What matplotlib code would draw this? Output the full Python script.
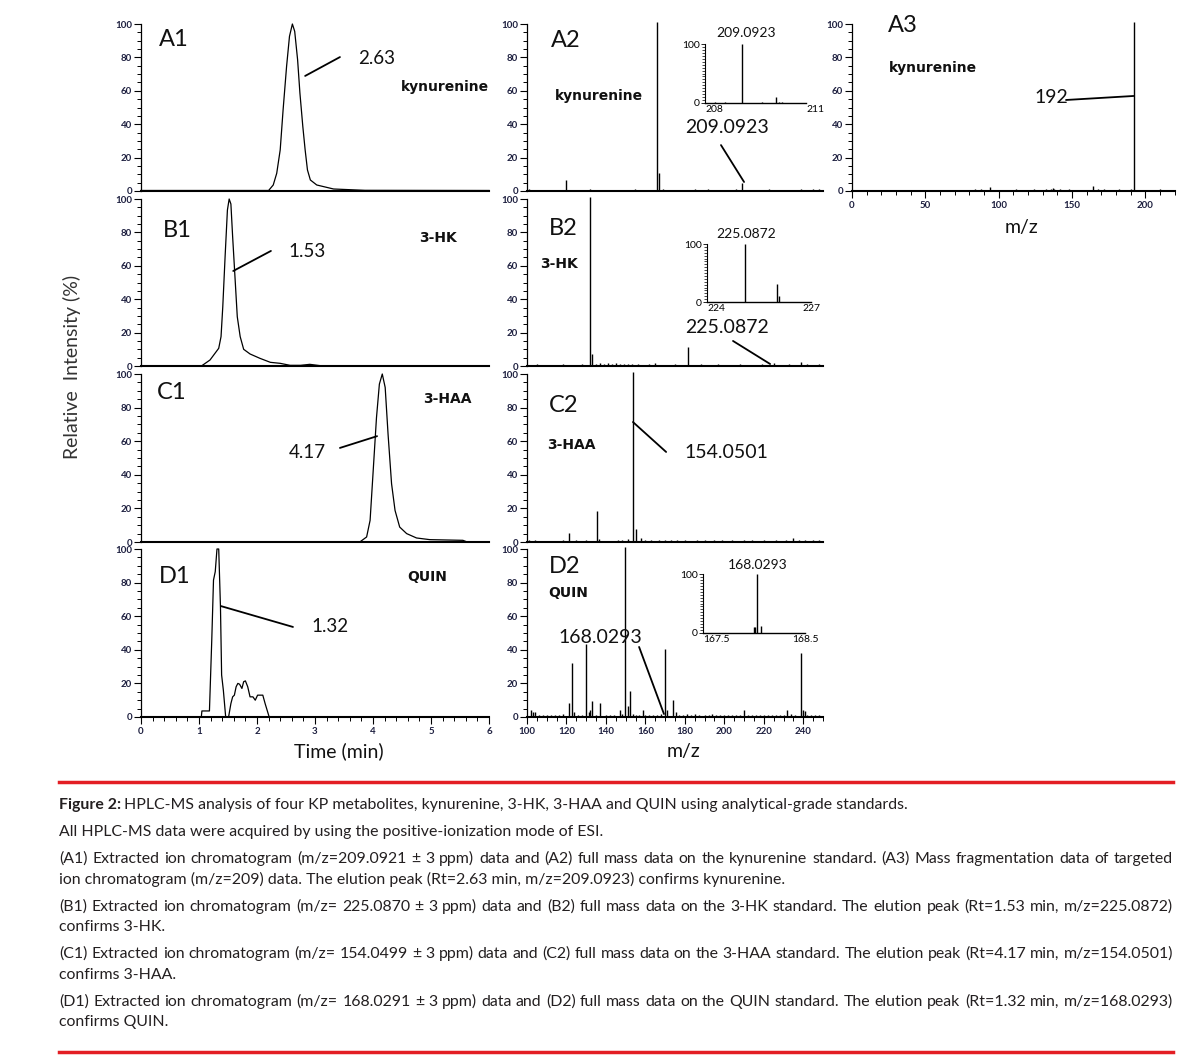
import matplotlib
matplotlib.use('Agg')
import matplotlib.pyplot as plt
from matplotlib.ticker import MultipleLocator, FixedLocator

plt.rcParams['font.family'] = ['Lato', 'DejaVu Sans']

W, H = 1192, 1062

# ---------- chromatograms: time (min) / relative intensity (%) ----------
a1_time = [0.0, 2.20, 2.28, 2.34, 2.40, 2.45, 2.51, 2.56, 2.61, 2.65, 2.70, 2.74,
           2.79, 2.83, 2.87, 2.92, 3.03, 3.32, 3.86, 6.0]
a1_int = [0.3, 0.3, 3.6, 10.6, 24.6, 48.6, 74.6, 92.6, 100, 95.6, 78.6, 58.6,
          38.6, 24.6, 12.6, 6.6, 3.6, 1.2, 0.4, 0.3]

b1_time = [0.0, 1.05, 1.19, 1.34, 1.38, 1.41, 1.45, 1.49, 1.52, 1.55, 1.58, 1.62,
           1.66, 1.71, 1.77, 1.88, 2.05, 2.23, 2.40, 2.57, 2.75, 2.91, 3.09, 6.0]
b1_int = [0.2, 0.2, 3.6, 10.6, 17.6, 35.5, 65.5, 93.4, 100, 97, 77.4, 53.5,
          29.5, 17.6, 10, 7.2, 4.6, 2.2, 1.6, 0.4, 0.4, 1.0, 0.2, 0.2]

c1_time = [0.0, 3.78, 3.89, 3.95, 4.00, 4.06, 4.11, 4.16, 4.21, 4.26, 4.32, 4.38,
           4.46, 4.58, 4.75, 4.98, 5.55, 5.61, 6.0]
c1_int = [0.2, 0.2, 3, 12.9, 40.6, 74, 94, 100, 92, 64, 34.7, 18.8,
          8.9, 5, 2.4, 1.4, 1, 0.2, 0.2]

d1_time = [0.0, 1.04, 1.05, 1.18, 1.22, 1.25, 1.28, 1.31, 1.34, 1.37, 1.39, 1.42,
           1.46, 1.51, 1.55, 1.58, 1.61, 1.64, 1.67, 1.70, 1.74, 1.77, 1.80, 1.84,
           1.88, 1.93, 1.97, 2.01, 2.07, 2.10, 2.14, 2.21, 6.0]
d1_int = [0, 0, 3.6, 3.6, 45.7, 81.5, 86.5, 100, 100, 65.6, 25, 15.9,
          0, 0, 8, 12, 13, 18, 20, 19.5, 17, 21, 21.5, 18,
          12, 12, 10, 13, 13, 13, 8, 0, 0]

# ---------- full mass spectra: m/z / relative intensity (%) ----------
a2_mz = [101, 113, 119.9, 132, 142, 154.6, 165.9, 166.9, 169, 175.7, 185, 191.7,
         199.3, 206, 209.0, 213.7, 222.6, 229.7, 239, 245, 248]
a2_int = [1.0, 0.8, 6.6, 1.0, 0.8, 1.2, 101, 11, 1.0, 0.8, 1.0, 1.2,
          0.8, 1.0, 4.6, 0.8, 1.0, 0.8, 1.2, 1.0, 1.4]

b2_mz = [102, 105, 110, 118, 125, 128, 132.1, 132.9, 135, 137, 139, 141, 143, 145,
         147, 149, 151, 153, 156, 159, 162, 165, 170, 175, 181.8, 185, 188, 192,
         197, 203, 208, 214, 219, 225, 229, 233, 236, 239, 242, 245, 248]
b2_int = [0.8, 1.0, 0.8, 1.0, 0.8, 1.0, 101, 6.9, 1.2, 1.5, 1.2, 1.5, 1.0, 1.5,
          1.2, 1.0, 1.4, 1.0, 1.2, 0.8, 1.0, 1.6, 0.8, 1.0, 11.3, 0.8, 1.0, 0.8,
          1.0, 0.8, 1.0, 0.8, 1.0, 1.5, 0.8, 1.0, 0.8, 2.2, 1.0, 0.8, 1.0]

c2_mz = [101, 104, 118, 121.1, 125, 130, 133, 135.5, 136.5, 146, 148, 151, 153.7,
         155.1, 157.9, 160, 163, 167, 170, 173, 176, 180, 186, 190, 195, 199, 204,
         210, 214, 220, 226, 231, 234.8, 238, 241, 245, 248]
c2_int = [1.0, 1.2, 1.0, 5.5, 1.0, 1.2, 0.8, 18.4, 1.5, 1.0, 1.2, 1.5, 101,
          7.9, 2.5, 1.2, 1.0, 1.2, 1.0, 1.4, 1.0, 1.2, 1.0, 1.4, 1.0, 1.2, 1.0,
          1.2, 1.0, 1.2, 1.0, 1.2, 2.5, 1.0, 1.2, 1.0, 1.2]

d2_mz = [102.2, 103, 104, 106, 108, 110, 112, 114, 116, 118, 121.3, 122.8, 124, 126,
         128, 130.1, 131.4, 132.1, 133, 135, 137.2, 140, 142, 144, 147.1, 148.3,
         149.7, 151.2, 152.4, 153.5, 155, 157, 158.8, 160, 162, 164, 166, 168,
         170.1, 171.1, 174, 175.3, 177, 179, 181, 183, 185, 187, 190, 192, 194,
         196, 198, 200, 202, 204, 206, 208, 210, 212, 214, 216, 218, 220, 222,
         224, 226, 228, 230, 232, 234, 236, 239, 240, 240.9, 242, 244, 246, 248]
d2_int = [4, 3, 3, 1, 1, 1, 1, 1, 1, 1.5, 8.3, 32.2, 3, 1,
          1, 43.3, 3, 4, 9.5, 1, 8.3, 1, 1, 1, 4, 2,
          101, 6.6, 15.5, 1.5, 1, 1, 4, 1, 1, 1, 1, 1.5,
          40.6, 4, 10, 3, 1, 1, 1.5, 1, 1.5, 1, 1, 1, 1.5,
          1, 1, 1, 1, 1, 1, 1, 4, 1, 1, 1, 1, 1, 1,
          1, 1, 1, 1, 4, 1.5, 1, 38.2, 4, 3.5, 1, 1, 1, 1]

# ---------- MS/MS of kynurenine ----------
a3_mz = [75, 80, 84, 86, 88, 90, 94, 98, 104, 108, 112, 118, 122, 124, 126, 128,
         132, 134, 136, 137, 138, 140, 142, 145, 148, 152, 156, 160, 164, 168,
         170, 172, 175, 178, 182, 186, 190, 192, 194, 198, 206, 210]
a3_int = [0.6, 0.8, 1.0, 0.8, 1.2, 0.8, 2.5, 0.8, 0.6, 0.8, 1.0, 0.6, 0.8, 1.0, 0.8, 0.6,
          1.0, 0.8, 1.2, 1.5, 1.0, 0.8, 1.0, 0.6, 1.0, 0.8, 0.6, 0.8, 3.0, 1.0,
          0.8, 1.0, 0.8, 0.6, 1.0, 0.8, 1.0, 101, 0.8, 0.6, 0.8, 1.0]

# ---------- zoomed insets ----------
a2_zoom_mz = [208.3, 208.6, 209.09, 209.7, 210.1, 210.2, 210.3]
a2_zoom_int = [1.5, 1.0, 100, 1.0, 11, 2, 2]
b2_zoom_mz = [225.09, 226.03, 226.08]
b2_zoom_int = [100, 31, 11]
d2_zoom_mz = [168.0, 168.01, 168.03, 168.07]
d2_zoom_int = [10, 10, 100, 12]

TICK_COL = '#1e2040'

fig = plt.figure(figsize=(W / 100, H / 100), dpi=100)
fig.patch.set_facecolor('white')


def px_axes(x0, y0, x1, y1):
    a = fig.add_axes([x0 / W, 1 - y1 / H, (x1 - x0) / W, (y1 - y0) / H])
    a.patch.set_visible(False)
    return a


def style_main(ax, xlim, major, minor, show_x):
    ax.set_xlim(*xlim)
    ax.set_ylim(0, 100)
    for s in ['top', 'right']:
        ax.spines[s].set_visible(False)
    ax.spines['left'].set_linewidth(0.9)
    ax.spines['bottom'].set_linewidth(1.5)
    ax.yaxis.set_major_locator(MultipleLocator(20))
    ax.yaxis.set_minor_locator(MultipleLocator(5))
    ax.tick_params(axis='y', which='major', length=5, width=0.8, labelsize=7,
                   pad=1.5, labelcolor=TICK_COL)
    ax.tick_params(axis='y', which='minor', length=3, width=0.7)
    if show_x:
        ax.xaxis.set_major_locator(MultipleLocator(major))
        ax.xaxis.set_minor_locator(MultipleLocator(minor))
        ax.tick_params(axis='x', which='major', length=5, width=0.8, labelsize=7,
                       pad=2, labelcolor=TICK_COL)
        ax.tick_params(axis='x', which='minor', length=3, width=0.7)
    else:
        ax.tick_params(axis='x', which='both', bottom=False, labelbottom=False)
    for lab in ax.get_xticklabels() + ax.get_yticklabels():
        lab.set_fontweight('bold')


def style_inset(ax, xlim, xt, aligns):
    ax.set_xlim(*xlim)
    ax.set_ylim(0, 100)
    for s in ['top', 'right']:
        ax.spines[s].set_visible(False)
    ax.spines['left'].set_linewidth(0.8)
    ax.spines['bottom'].set_linewidth(1.0)
    ax.yaxis.set_major_locator(FixedLocator([0, 100]))
    ax.yaxis.set_minor_locator(MultipleLocator(5))
    ax.xaxis.set_major_locator(FixedLocator(xt))
    ax.set_xticklabels([f'{v:g}' for v in xt])
    ax.tick_params(axis='y', which='major', length=3, width=0.6, labelsize=7.5, pad=1)
    ax.tick_params(axis='y', which='minor', length=2, width=0.5)
    ax.tick_params(axis='x', which='major', length=0, labelsize=7.5, pad=1.5)
    for lab, a in zip(ax.get_xticklabels(), aligns):
        lab.set_ha(a)


def leader(ax, p0, p1):
    ax.annotate('', xy=p1, xytext=p0,
                arrowprops=dict(arrowstyle='-', lw=1.3, color='black',
                                shrinkA=0, shrinkB=0))


def bold(ax, x, y, s, ha='center'):
    ax.text(x, y, s, ha=ha, va='center', fontsize=10, fontweight='bold',
            family='DejaVu Sans', color='#111111')


def plab(ax, x, y, s):
    ax.text(x, y, s, ha='left', va='center', fontsize=17, color='#111111')


def num(ax, x, y, s, fs=13.5):
    ax.text(x, y, s, ha='center', va='center', fontsize=fs, color='#111111')


cols = [(141, 489), (527, 823)]
rows = [(24, 191), (199, 366), (374, 542), (549, 717)]

# ---- chromatogram column ----
chrom = [(a1_time, a1_int), (b1_time, b1_int), (c1_time, c1_int), (d1_time, d1_int)]
c1_axes = []
for i, (t, y) in enumerate(chrom):
    ax = px_axes(cols[0][0], rows[i][0], cols[0][1], rows[i][1])
    ax.plot(t, y, color='black', lw=0.9, clip_on=False)
    style_main(ax, (0, 6), 1, 0.2, i == 3)
    c1_axes.append(ax)
axA1, axB1, axC1, axD1 = c1_axes

# ---- full mass column ----
spec = [(a2_mz, a2_int), (b2_mz, b2_int), (c2_mz, c2_int), (d2_mz, d2_int)]
c2_axes = []
for i, (m, y) in enumerate(spec):
    ax = px_axes(cols[1][0], rows[i][0], cols[1][1], rows[i][1])
    ax.vlines(m, 0, y, color='black', lw=1.0, clip_on=False)
    style_main(ax, (100, 250), 20, 5, i == 3)
    c2_axes.append(ax)
axA2, axB2, axC2, axD2 = c2_axes

# ---- MS/MS ----
axA3 = px_axes(852, 24, 1174.7, 191)
axA3.vlines(a3_mz, 0, a3_int, color='black', lw=1.0, clip_on=False)
style_main(axA3, (0, 220), 50, 10, True)

# panel labels
plab(axA1, 0.31, 91, 'A1')
plab(axB1, 0.38, 81.4, 'B1')
plab(axC1, 0.28, 88.7, 'C1')
plab(axD1, 0.31, 83.9, 'D1')
plab(axA2, 112.2, 90.4, 'A2')
plab(axB2, 111.2, 82.6, 'B2')
plab(axC2, 111.2, 81.5, 'C2')
plab(axD2, 111.2, 89.3, 'D2')
plab(axA3, 24.5, 99.4, 'A3')

# compound names
bold(axA1, 5.24, 62.3, 'kynurenine')
bold(axA2, 136.5, 56.9, 'kynurenine')
bold(axA3, 25.2, 73.7, 'kynurenine', ha='left')
bold(axB1, 5.12, 76.6, '3-HK')
bold(axB2, 106.6, 61.1, '3-HK', ha='left')
bold(axC1, 5.28, 85.1, '3-HAA')
bold(axC2, 110.1, 57.7, '3-HAA', ha='left')
bold(axD1, 4.93, 83.3, 'QUIN')
bold(axD2, 110.6, 73.8, 'QUIN', ha='left')

# peak annotations
num(axA1, 4.07, 79.6, '2.63')
leader(axA1, (2.83, 68.9), (3.43, 80.2))
num(axB1, 2.86, 68.3, '1.53')
leader(axB1, (1.59, 56.9), (2.24, 68.9))
num(axC1, 2.86, 53, '4.17')
leader(axC1, (3.43, 56), (4.07, 63))
num(axD1, 3.26, 53.6, '1.32')
leader(axD1, (1.38, 66), (2.62, 53.6))

num(axA2, 201.4, 38.3, '209.0923', 14)
leader(axA2, (198.3, 27.5), (210, 5.4))
num(axB2, 201.4, 22.8, '225.0872', 14)
leader(axB2, (204.4, 15), (223.2, 1.2))
num(axC2, 200.9, 53, '154.0501', 14)
leader(axC2, (153.7, 71.4), (170.5, 53.6))
num(axD2, 137, 47.6, '168.0293', 14)
leader(axD2, (156.8, 41.7), (169.4, 1.8))
num(axA3, 135.6, 55.7, '192', 14)
leader(axA3, (145.9, 54.5), (192, 56.9))

# ---- insets ----
insets = [((705, 44, 806, 103), (208, 211), [208, 211], ['left', 'left'],
           a2_zoom_mz, a2_zoom_int, '209.0923', (0.41, 1.19)),
          ((707, 244, 811, 302), (224, 227), [224, 227], ['left', 'center'],
           b2_zoom_mz, b2_zoom_int, '225.0872', (0.38, 1.17)),
          ((703, 574, 805, 633), (167.5, 168.5), [167.5, 168.5], ['left', 'center'],
           d2_zoom_mz, d2_zoom_int, '168.0293', (0.536, 1.15))]
for box, xl, xt, al, m, y, ttl, tpos in insets:
    ia = px_axes(*box)
    ia.vlines(m, 0, y, color='black', lw=1.0)
    style_inset(ia, xl, xt, al)
    ia.text(tpos[0], tpos[1], ttl, transform=ia.transAxes, ha='center', va='center',
            fontsize=10, color='#111111')

# axis labels
fig.text(72 / W, 1 - 367 / H, 'Relative  Intensity (%)', rotation=90,
         ha='center', va='center', fontsize=14, color='#333333')
fig.text(339 / W, 1 - 751 / H, 'Time (min)', ha='center', va='center', fontsize=14,
         color='#111111')
fig.text(683 / W, 1 - 751 / H, 'm/z', ha='center', va='center', fontsize=14,
         color='#111111')
fig.text(1021 / W, 1 - 227 / H, 'm/z', ha='center', va='center', fontsize=14,
         color='#111111')

# ---- caption ----
RED = '#e31e24'
TXT = '#231f20'
fig.add_artist(plt.Line2D([59 / W, 1173 / W], [1 - 782 / H, 1 - 782 / H],
                          color=RED, lw=2.5))
fig.add_artist(plt.Line2D([59 / W, 1173 / W], [1 - 1052 / H, 1 - 1052 / H],
                          color=RED, lw=2.5))

CFS = 11.4
renderer = fig.canvas.get_renderer()

t0 = fig.text(59 / W, 1 - 809 / H, 'Figure 2:', fontweight='bold', fontsize=CFS,
              color=TXT, va='baseline')
bb = t0.get_window_extent(renderer)
fig.text((bb.x1 + 3) / W, 1 - 809 / H,
         'HPLC-MS analysis of four KP metabolites, kynurenine, 3-HK, 3-HAA and QUIN '
         'using analytical-grade standards.',
         fontsize=CFS, color=TXT, va='baseline')

caption = [
    ('All HPLC-MS data were acquired by using the positive-ionization mode of ESI.', 836, False),
    ('(A1) Extracted ion chromatogram (m/z=209.0921 ± 3 ppm) data and (A2) full mass data '
     'on the kynurenine standard. (A3) Mass fragmentation data of targeted', 863, True),
    ('ion chromatogram (m/z=209) data. The elution peak (Rt=2.63 min, m/z=209.0923) '
     'confirms kynurenine.', 884, False),
    ('(B1) Extracted ion chromatogram (m/z= 225.0870 ± 3 ppm) data and (B2) full mass data '
     'on the 3-HK standard. The elution peak (Rt=1.53 min, m/z=225.0872)', 911, True),
    ('confirms 3-HK.', 931, False),
    ('(C1) Extracted ion chromatogram (m/z= 154.0499 ± 3 ppm) data and (C2) full mass data '
     'on the 3-HAA standard. The elution peak (Rt=4.17 min, m/z=154.0501)', 958, True),
    ('confirms 3-HAA.', 979, False),
    ('(D1) Extracted ion chromatogram (m/z= 168.0291 ± 3 ppm) data and (D2) full mass data '
     'on the QUIN standard. The elution peak (Rt=1.32 min, m/z=168.0293)', 1006, True),
    ('confirms QUIN.', 1026, False),
]

for line, ypx, just in caption:
    if not just:
        fig.text(59 / W, 1 - ypx / H, line, fontsize=CFS, color=TXT, va='baseline')
        continue
    words = line.split(' ')
    objs = [fig.text(0, 1 - ypx / H, w, fontsize=CFS, color=TXT, va='baseline')
            for w in words]
    widths = [o.get_window_extent(renderer).width for o in objs]
    gap = (1173 - 59 - sum(widths)) / (len(words) - 1)
    x = 59
    for o, w in zip(objs, widths):
        o.set_x(x / W)
        x += w + gap

fig.savefig('out.png', dpi=100, facecolor='white')
